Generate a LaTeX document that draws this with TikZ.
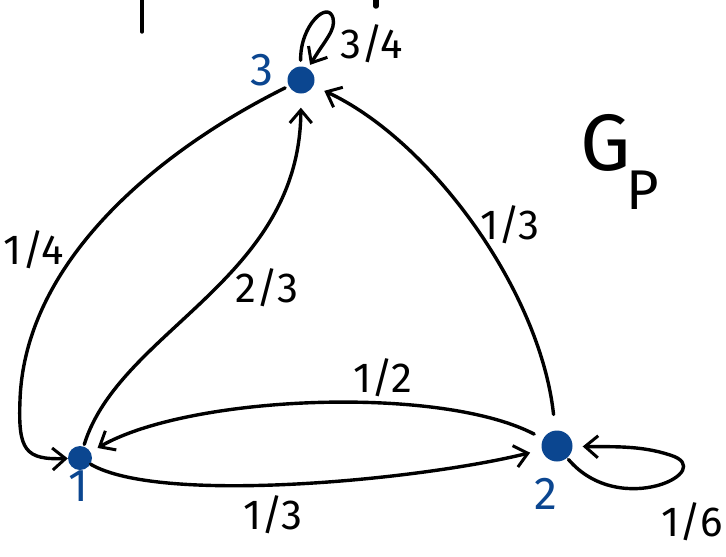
\documentclass[tikz,border=0pt]{standalone}
\usepackage{fontspec}
\setmainfont{Fira Sans}
\usetikzlibrary{arrows.meta}
\definecolor{dotblue}{HTML}{0B4690}
\begin{document}
\begin{tikzpicture}[x=1pt,y=-1pt,
  vtx/.style={circle,fill=dotblue,inner sep=0pt},
  vlab/.style={text=dotblue,font=\fontsize{46}{48}\selectfont},
  elab/.style={font=\fontsize{42}{44}\selectfont},
  edge/.style={draw=black,line width=3.4pt,line cap=round,line join=round,
    -{Straight Barb[length=13pt,width=22pt,line width=3pt]}},
  stroke/.style={draw=black,line width=3.4pt,line cap=round}]
\useasboundingbox (0,0) rectangle (726,557);
% vertices
\node[vtx,minimum size=27pt] (n3) at (301,80) {};
\node[vtx,minimum size=24pt] (n1) at (80,458) {};
\node[vtx,minimum size=31pt] (n2) at (557,446) {};
\node[vlab] (l3) at (262,70) {3};
\node[vlab] (l1) at (78,486) {1};
\node[vlab] (l2) at (546,494) {2};
% edges
\draw[edge,shorten <=4pt] (n3) .. controls (160,150) and (25,260) .. (20,400)
  .. controls (18,450) and (25,460) .. (n1);
\draw[edge,shorten <=2pt,shorten >=14pt] (n1) .. controls (120,330) and (300,280) .. (n3);
\draw[edge,shorten <=16pt,shorten >=12pt] (n2) .. controls (540,290) and (430,140) .. (n3);
\draw[edge,shorten <=10pt,shorten >=8pt] (n2) .. controls (440,385) and (190,395) .. (n1);
\draw[edge,shorten <=0pt,shorten >=12pt] (n1) .. controls (160,505) and (420,480) .. (n2);
\draw[edge,shorten <=2pt,shorten >=10pt] (n2) .. controls (620,520) and (720,470) .. (670,455)
  .. controls (640,445) and (610,447) .. (n2);
\draw[edge,shorten <=6pt,shorten >=4pt] (n3) .. controls (300,25) and (328,0) .. (333,18)
  .. controls (336,30) and (325,40) .. (n3);
% edge labels
\node[elab] (e34) at (372,44) {3/4};
\node[elab] (e14) at (34,250) {1/4};
\node[elab] (e23) at (267,288) {2/3};
\node[elab] (e13a) at (510,225) {1/3};
\node[elab] (e12) at (383,378) {1/2};
\node[elab] (e13b) at (273,515) {1/3};
\node[elab] (e16) at (692,522) {1/6};
% graph name
\node[font=\fontsize{80}{82}\selectfont] (g) at (606,143) {G};
\node[font=\fontsize{56}{58}\selectfont] (gp) at (643,190) {P};
% stray marks at top edge
\coordinate (s1) at (142,0);
\coordinate (s2) at (142,32);
\draw[stroke] (s1) -- (s2);
\coordinate (s3) at (376,0);
\coordinate (s4) at (376,6);
\draw[stroke,line width=5.5pt] (s3) -- (s4);
\end{tikzpicture}
\end{document}
